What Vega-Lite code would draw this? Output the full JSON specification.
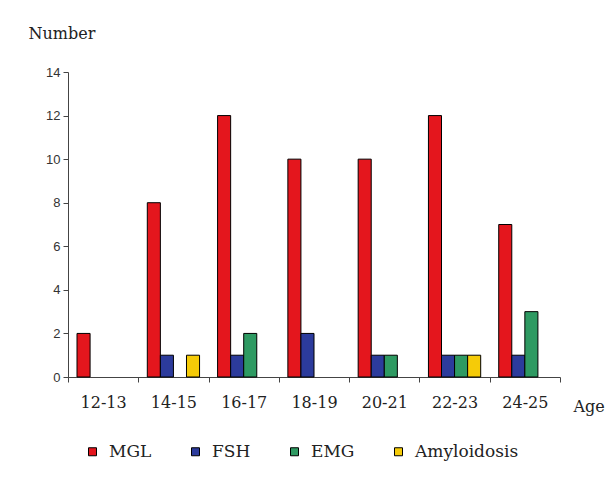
{
  "$schema": "https://vega.github.io/schema/vega-lite/v6.json",
  "width": 492,
  "height": 305,
  "autosize": "none",
  "padding": {"left": 68, "top": 72, "right": 45, "bottom": 113},
  "background": "white",
  "data": {
    "values": [
      {"age": "12-13", "group": "MGL", "n": 2},
      {"age": "14-15", "group": "MGL", "n": 8},
      {"age": "14-15", "group": "FSH", "n": 1},
      {"age": "14-15", "group": "Amyloidosis", "n": 1},
      {"age": "16-17", "group": "MGL", "n": 12},
      {"age": "16-17", "group": "FSH", "n": 1},
      {"age": "16-17", "group": "EMG", "n": 2},
      {"age": "18-19", "group": "MGL", "n": 10},
      {"age": "18-19", "group": "FSH", "n": 2},
      {"age": "20-21", "group": "MGL", "n": 10},
      {"age": "20-21", "group": "FSH", "n": 1},
      {"age": "20-21", "group": "EMG", "n": 1},
      {"age": "22-23", "group": "MGL", "n": 12},
      {"age": "22-23", "group": "FSH", "n": 1},
      {"age": "22-23", "group": "EMG", "n": 1},
      {"age": "22-23", "group": "Amyloidosis", "n": 1},
      {"age": "24-25", "group": "MGL", "n": 7},
      {"age": "24-25", "group": "FSH", "n": 1},
      {"age": "24-25", "group": "EMG", "n": 3}
    ]
  },
  "mark": {"type": "bar", "stroke": "black", "strokeWidth": 1},
  "encoding": {
    "x": {
      "field": "age",
      "type": "nominal",
      "sort": null,
      "scale": {"paddingInner": 0, "paddingOuter": 0},
      "axis": {
        "title": "Age",
        "titleFont": "DejaVu Serif",
        "titleFontSize": 16,
        "titleFontWeight": "normal",
        "titleColor": "#222",
        "titleAngle": 0,
        "titleAlign": "left",
        "titleBaseline": "alphabetic",
        "titleX": 505,
        "titleY": 34,
        "labelAngle": 0,
        "labelFont": "DejaVu Serif",
        "labelFontSize": 16,
        "labelColor": "#222",
        "labelPadding": 12,
        "tickBand": "extent",
        "tickSize": 5,
        "tickColor": "#444",
        "domainColor": "#444",
        "grid": false
      }
    },
    "xOffset": {
      "field": "group",
      "type": "nominal",
      "scale": {"domain": ["MGL", "FSH", "EMG", "Amyloidosis"], "paddingInner": 0, "paddingOuter": 0.69}
    },
    "y": {
      "field": "n",
      "type": "quantitative",
      "scale": {"domain": [0, 14]},
      "axis": {
        "values": [0, 2, 4, 6, 8, 10, 12, 14],
        "grid": false,
        "title": "Number",
        "titleFont": "DejaVu Serif",
        "titleFontSize": 16,
        "titleFontWeight": "normal",
        "titleColor": "#222",
        "titleAngle": 0,
        "titleAlign": "left",
        "titleBaseline": "alphabetic",
        "titleX": -40,
        "titleY": -34,
        "labelFont": "Liberation Sans",
        "labelFontSize": 13,
        "labelColor": "#333",
        "labelPadding": 3,
        "tickSize": 5,
        "tickColor": "#444",
        "domainColor": "#444"
      }
    },
    "color": {
      "field": "group",
      "type": "nominal",
      "scale": {
        "domain": ["MGL", "FSH", "EMG", "Amyloidosis"],
        "range": ["#e4161d", "#2c3b9c", "#2e9a62", "#f5cb08"]
      },
      "legend": {
        "title": null,
        "orient": "none",
        "direction": "horizontal",
        "legendX": 16,
        "legendY": 371,
        "padding": 0,
        "symbolType": "square",
        "symbolSize": 64,
        "symbolStrokeColor": "black",
        "symbolStrokeWidth": 1,
        "labelFont": "DejaVu Serif",
        "labelFontSize": 17,
        "labelColor": "#222",
        "labelOffset": 8,
        "columnPadding": 35
      }
    }
  },
  "config": {
    "view": {"stroke": null},
    "legend": {"labelFont": "DejaVu Serif", "labelFontSize": 17}
  }
}
